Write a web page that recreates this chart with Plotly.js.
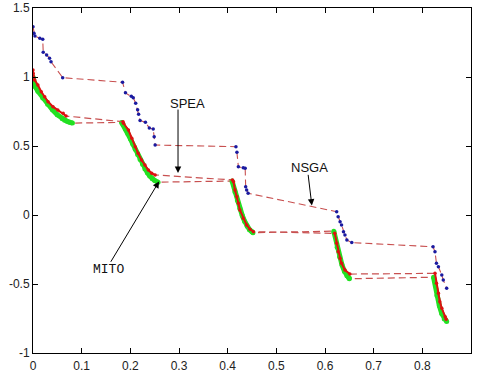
<!DOCTYPE html>
<html>
<head>
<meta charset="utf-8">
<script src="https://cdn.plot.ly/plotly-3.0.1.min.js"></script>
<style>html,body{margin:0;padding:0;background:#fff;}#chart{width:478px;height:375px;}</style>
</head>
<body>
<div id="chart"></div>
<script>
// NSGA (blue dots)
var nsgaX = [0, 0.002, 0.004, 0.014, 0.020, 0.021, 0.028, 0.034, 0.037, 0.061,
  0.184, 0.190, 0.202, 0.206, 0.211, 0.215, 0.217, 0.220, 0.231, 0.239, 0.247, 0.249, 0.251,
  0.417, 0.419, 0.422, 0.432, 0.436, 0.437, 0.439, 0.442,
  0.624, 0.627, 0.631, 0.634, 0.638, 0.641, 0.645, 0.655,
  0.822, 0.826, 0.829, 0.833, 0.840, 0.843, 0.850];
var nsgaY = [1.364, 1.317, 1.297, 1.280, 1.273, 1.180, 1.160, 1.135, 1.110, 0.995,
  0.962, 0.885, 0.860, 0.850, 0.810, 0.762, 0.730, 0.685, 0.672, 0.630, 0.623, 0.567, 0.507,
  0.495, 0.455, 0.350, 0.343, 0.338, 0.205, 0.181, 0.157,
  0.024, -0.012, -0.049, -0.072, -0.121, -0.145, -0.181, -0.200,
  -0.230, -0.266, -0.350, -0.375, -0.435, -0.471, -0.531];

// SPEA (red)
var speaX = [0, 0.0005, 0.0035, 0.010, 0.017, 0.024, 0.031, 0.041, 0.051, 0.062, 0.068,
  0.185, 0.186, 0.196, 0.203, 0.210, 0.216, 0.223, 0.230, 0.237, 0.244, 0.251,
  0.410, 0.412, 0.415, 0.419, 0.422, 0.425, 0.432, 0.439, 0.446, 0.453,
  0.620, 0.624, 0.627, 0.631, 0.634, 0.641, 0.651,
  0.826, 0.829, 0.833, 0.836, 0.840, 0.847, 0.849];
var speaY = [1.050, 1.025, 0.978, 0.942, 0.893, 0.857, 0.821, 0.785, 0.761, 0.737, 0.717,
  0.676, 0.664, 0.616, 0.556, 0.495, 0.447, 0.399, 0.362, 0.326, 0.302, 0.290,
  0.254, 0.241, 0.181, 0.133, 0.085, 0.036, -0.024, -0.072, -0.104, -0.121,
  -0.133, -0.205, -0.266, -0.314, -0.350, -0.399, -0.428,
  -0.423, -0.495, -0.567, -0.628, -0.676, -0.737, -0.756];

// MITO (green)
var mitoX = [0, 0.002, 0.005, 0.010, 0.020, 0.030, 0.040, 0.050, 0.060, 0.065, 0.070, 0.075, 0.081,
  0.182, 0.185, 0.190, 0.195, 0.200, 0.205, 0.210, 0.215, 0.220, 0.225, 0.230, 0.235, 0.240, 0.245, 0.250, 0.257,
  0.409, 0.415, 0.420, 0.425, 0.430, 0.435, 0.440, 0.445, 0.450, 0.452,
  0.618, 0.625, 0.630, 0.635, 0.640, 0.645, 0.650, 0.650,
  0.823, 0.830, 0.835, 0.840, 0.845, 0.850];
var mitoY = [1.000, 0.955, 0.928, 0.897, 0.847, 0.803, 0.762, 0.726, 0.698, 0.687, 0.679, 0.673, 0.666,
  0.671, 0.654, 0.623, 0.589, 0.553, 0.515, 0.477, 0.439, 0.402, 0.367, 0.334, 0.306, 0.282, 0.263, 0.250, 0.238,
  0.246, 0.167, 0.105, 0.048, -0.004, -0.047, -0.082, -0.107, -0.121, -0.128,
  -0.117, -0.233, -0.303, -0.363, -0.409, -0.440, -0.456, -0.462,
  -0.451, -0.583, -0.658, -0.715, -0.754, -0.772];

var xTicks = [0, 0.1, 0.2, 0.3, 0.4, 0.5, 0.6, 0.7, 0.8, 0.9];
var xTickText = ['0', '0.1', '0.2', '0.3', '0.4', '0.5', '0.6', '0.7', '0.8', '0.9'];
var yTicks = [-1, -0.5, 0, 0.5, 1, 1.5];
var yTickText = ['-1', '-0.5', '0', '0.5', '1', '1.5'];

var labels = {mito: 'MITO', spea: 'SPEA', nsga: 'NSGA'};

// break series into segments (null where the x gap is large)
function segs(xs, ys) {
  var ox = [], oy = [];
  for (var i = 0; i < xs.length; i++) {
    if (i > 0 && xs[i] - xs[i - 1] > 0.05) { ox.push(null); oy.push(null); }
    ox.push(xs[i]); oy.push(ys[i]);
  }
  return {x: ox, y: oy};
}

var dashColor = '#c85050';
var dashStyle = '7px,4px';
var mSeg = segs(mitoX, mitoY), sSeg = segs(speaX, speaY);

var traces = [
  {x: mitoX, y: mitoY, mode: 'lines', line: {color: dashColor, width: 1.2, dash: dashStyle}, hoverinfo: 'skip'},
  {x: mSeg.x, y: mSeg.y, mode: 'lines', connectgaps: false, line: {color: '#22e022', width: 5}, hoverinfo: 'skip'},
  {x: mitoX, y: mitoY, mode: 'markers', marker: {color: '#22e022', size: 5}, name: labels.mito},
  {x: speaX, y: speaY, mode: 'lines', line: {color: dashColor, width: 1.2, dash: dashStyle}, hoverinfo: 'skip'},
  {x: sSeg.x, y: sSeg.y, mode: 'lines', connectgaps: false, line: {color: '#dd1111', width: 2}, hoverinfo: 'skip'},
  {x: speaX, y: speaY, mode: 'markers', marker: {color: '#dd1111', size: 3.5}, name: labels.spea},
  {x: nsgaX, y: nsgaY, mode: 'lines', line: {color: dashColor, width: 1.1, dash: dashStyle}, hoverinfo: 'skip'},
  {x: nsgaX, y: nsgaY, mode: 'markers', marker: {color: '#1a1aa0', size: 3.5}, name: labels.nsga}
];

var font = {family: 'Liberation Sans, Arial, sans-serif', size: 12, color: '#222'};

function arrow(x, y, ax, ay) {
  return {x: x, y: y, ax: ax, ay: ay, xref: 'x', yref: 'y', axref: 'x', ayref: 'y',
    text: '', showarrow: true, arrowhead: 2, arrowsize: 1.3, arrowwidth: 1, arrowcolor: '#000', standoff: 0};
}
function label(x, y, t, f) {
  return {x: x, y: y, xref: 'x', yref: 'y', text: t, showarrow: false, font: f};
}

var layout = {
  width: 478, height: 375,
  margin: {l: 33, r: 7, t: 8, b: 22},
  paper_bgcolor: '#fff', plot_bgcolor: '#fff',
  showlegend: false,
  font: font,
  xaxis: {range: [0, 0.9], tickvals: xTicks, ticktext: xTickText, ticks: 'inside', ticklen: 5,
    tickcolor: '#000', showline: true, linecolor: '#000', linewidth: 1, mirror: 'ticks',
    showgrid: false, zeroline: false, tickfont: font, ticklabelstandoff: 2},
  yaxis: {range: [-1, 1.5], tickvals: yTicks, ticktext: yTickText, ticks: 'inside', ticklen: 5,
    tickcolor: '#000', showline: true, linecolor: '#000', linewidth: 1, mirror: 'ticks',
    showgrid: false, zeroline: false, tickfont: font},
  annotations: [
    arrow(0.298, 0.305, 0.298, 0.775),
    label(0.318, 0.81, labels.spea, {family: 'Liberation Sans, Arial, sans-serif', size: 13, color: '#111'}),
    arrow(0.573, 0.068, 0.565, 0.302),
    label(0.569, 0.343, labels.nsga, {family: 'Liberation Sans, Arial, sans-serif', size: 13, color: '#111'}),
    arrow(0.259, 0.243, 0.158, -0.35),
    label(0.156, -0.393, labels.mito, {family: 'Liberation Mono, Courier New, monospace', size: 13, color: '#111'})
  ]
};

Plotly.newPlot('chart', traces, layout, {staticPlot: true, displayModeBar: false});
</script>
</body>
</html>
